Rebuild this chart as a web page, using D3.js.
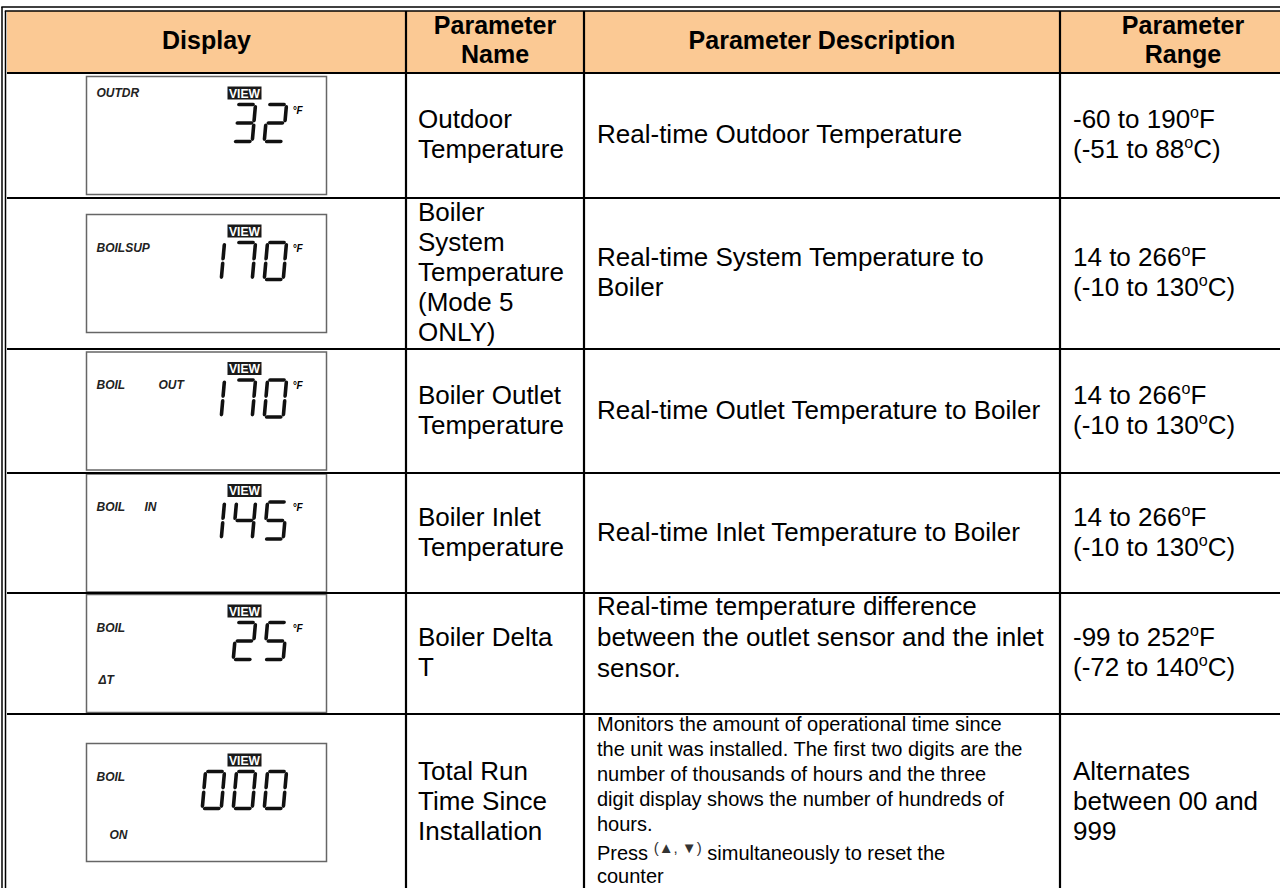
<!DOCTYPE html>
<html>
<head>
<meta charset="utf-8">
<script src="https://cdn.jsdelivr.net/npm/d3@7"></script>
<style>
  body { margin: 0; background: #fff; }
</style>
</head>
<body>
<div id="board"></div>
<script>
// table content
const headers = ["Display", "Parameter\nName", "Parameter Description", "Parameter\nRange"];
const lcdLabel = ["OUTDR", "BOILSUP", "BOIL", "BOIL", "BOIL", "BOIL"];
const lcdSideLabel = ["", "", "OUT", "IN", "", ""];
const lcdLowLabel = ["", "", "", "", "\u0394T", "ON"];
const lcdValue = ["32", "170", "170", "145", "25", "000"];
const lcdUnit = ["\u00b0F", "\u00b0F", "\u00b0F", "\u00b0F", "\u00b0F", ""];
const paramNames = [
    "Outdoor\nTemperature",
    "Boiler\nSystem\nTemperature\n(Mode 5\nONLY)",
    "Boiler Outlet\nTemperature",
    "Boiler Inlet\nTemperature",
    "Boiler Delta\nT",
    "Total Run\nTime Since\nInstallation"
];
const paramDescs = [
    "Real-time Outdoor Temperature",
    "Real-time System Temperature to\nBoiler",
    "Real-time Outlet Temperature to Boiler",
    "Real-time Inlet Temperature to Boiler",
    "Real-time temperature difference\nbetween the outlet sensor and the inlet\nsensor.",
    "Monitors the amount of operational time since\nthe unit was installed. The first two digits are the\nnumber of thousands of hours and the three\ndigit display shows the number of hundreds of\nhours.\nPress [keys] simultaneously to reset the\ncounter"
];
const paramRanges = [
    "-60 to 190\u00b0F\n(-51 to 88\u00b0C)",
    "14 to 266\u00b0F\n(-10 to 130\u00b0C)",
    "14 to 266\u00b0F\n(-10 to 130\u00b0C)",
    "14 to 266\u00b0F\n(-10 to 130\u00b0C)",
    "-99 to 252\u00b0F\n(-72 to 140\u00b0C)",
    "Alternates\nbetween 00 and\n999"
];

// layout
const colEdges = [7, 406, 584, 1060, 1306];
const rowEdges = [11, 73, 198, 349, 473, 593, 714, 891];
const font = "'Liberation Sans', Arial, sans-serif";
const headFill = "#fbc994";
const bodySize = 26, bodyLh = 30;

const board = d3.select("#board")
    .append("svg")
    .attr("width", 1280)
    .attr("height", 888);

const nRows = paramNames.length;
const rowTop = i => rowEdges[i + 1];
const rowBot = i => rowEdges[i + 2];
const rowMid = i => (rowTop(i) + rowBot(i)) / 2;

// header band
board.append("rect")
    .attr("x", colEdges[0])
    .attr("y", rowEdges[0])
    .attr("width", colEdges[4] - colEdges[0])
    .attr("height", rowEdges[1] - rowEdges[0])
    .attr("fill", headFill);

function multiline(g, text, x, cy, opts) {
    const lines = text.split("\n");
    const lh = opts.lh;
    const y0 = opts.top != null ? opts.top : cy - (lines.length * lh) / 2 + lh * 0.76;
    const t = g.append("text")
        .attr("font-family", font)
        .attr("font-size", opts.size)
        .attr("font-weight", opts.weight || "normal")
        .attr("text-anchor", opts.anchor || "start")
        .attr("fill", "#000");
    lines.forEach((ln, k) => {
        const parts = ln.split("\u00b0");
        let lift = 0;
        parts.forEach((p, j) => {
            const ts = t.append("tspan").text(p);
            if (j === 0) ts.attr("x", x).attr("y", y0 + k * lh);
            else ts.attr("dy", lift);
            if (j < parts.length - 1) {
                lift = opts.size * 0.38;
                t.append("tspan").text("o")
                    .attr("font-size", opts.size * 0.62)
                    .attr("dy", -lift);
            }
        });
    });
    return t;
}

// header text
headers.forEach((h, c) => {
    const cx = (colEdges[c] + colEdges[c + 1]) / 2;
    multiline(board, h, cx, (rowEdges[0] + rowEdges[1]) / 2 - 1, { size: 25, lh: 29.5, weight: "bold", anchor: "middle" });
});

// names and ranges
paramNames.forEach((n, i) => {
    multiline(board, n, colEdges[1] + 12, rowMid(i), { size: bodySize, lh: bodyLh });
});
paramRanges.forEach((r, i) => {
    multiline(board, r, colEdges[3] + 13, rowMid(i), { size: bodySize, lh: bodyLh });
});

// descriptions
paramDescs.forEach((d, i) => {
    if (i < nRows - 1) {
        // the delta-T text sits near the top of its cell
        const opts = { size: bodySize, lh: bodyLh };
        if (d.split("\n").length > 2) { opts.top = rowTop(i) + 22; opts.lh = 31; }
        multiline(board, d, colEdges[2] + 13, rowMid(i), opts);
        return;
    }
    // small text in the last row, top aligned
    const lines = d.split("\n");
    const g = board.append("g");
    let y = rowTop(i) + 17;
    lines.forEach(ln => {
        const isPress = ln.startsWith("Press");
        if (isPress) y += 4;
        const t = g.append("text")
            .attr("font-family", font)
            .attr("font-size", 20)
            .attr("x", colEdges[2] + 13)
            .attr("y", y);
        if (ln.includes("[keys]")) {
            const [a, b] = ln.split("[keys]");
            t.append("tspan").text(a);
            t.append("tspan").text("(\u25b2, \u25bc)")
                .attr("font-size", 15).attr("dy", -7).attr("fill", "#333");
            t.append("tspan").text(" " + b.trim()).attr("dy", 7);
        } else {
            t.text(ln);
        }
        y += isPress ? 23 : 25;
    });
});

// LCD displays
const segMap = {
    "0": "abcdef", "1": "bc", "2": "abged", "3": "abgcd", "4": "fgbc",
    "5": "afgcd", "6": "afgedc", "7": "abc", "8": "abcdefg", "9": "abcdfg"
};
function segLines(w, h) {
    const m = h / 2, gp = 2.4;
    return {
        a: [[gp, 0], [w - gp, 0]],
        b: [[w, gp], [w, m - gp]],
        c: [[w, m + gp], [w, h - gp]],
        d: [[gp, h], [w - gp, h]],
        e: [[0, m + gp], [0, h - gp]],
        f: [[0, gp], [0, m - gp]],
        g: [[gp, m], [w - gp, m]]
    };
}

const boxW = 240, boxH = 118;
const dispCx = (colEdges[0] + colEdges[1]) / 2;

lcdValue.forEach((val, i) => {
    const bx = dispCx - boxW / 2;
    const by = rowMid(i) - boxH / 2;
    const g = board.append("g").attr("transform", `translate(${bx},${by})`);

    g.append("rect")
        .attr("width", boxW)
        .attr("height", boxH)
        .attr("fill", "#fff")
        .attr("stroke", "#666")
        .attr("stroke-width", 1.5);

    const lab = (txt, x, y) => g.append("text")
        .attr("x", x).attr("y", y)
        .attr("font-family", font)
        .attr("font-size", 12)
        .attr("font-weight", "bold")
        .attr("font-style", "italic")
        .attr("fill", "#222")
        .text(txt);

    lab(lcdLabel[i], 10, i === 0 ? 20 : 37);
    if (lcdSideLabel[i]) lab(lcdSideLabel[i], lcdSideLabel[i] === "OUT" ? 72 : 58, 37);
    if (lcdLowLabel[i]) lab(lcdLowLabel[i], lcdLowLabel[i] === "ON" ? 23 : 12, lcdLowLabel[i] === "ON" ? 95 : 89);

    // VIEW badge
    g.append("rect")
        .attr("x", 141).attr("y", 10)
        .attr("width", 34).attr("height", 13)
        .attr("fill", "#1a1a1a");
    g.append("text")
        .attr("x", 158).attr("y", 21)
        .attr("text-anchor", "middle")
        .attr("font-family", font)
        .attr("font-size", 12)
        .attr("font-weight", "bold")
        .attr("fill", "#fff")
        .attr("textLength", 31)
        .attr("lengthAdjust", "spacingAndGlyphs")
        .text("VIEW");

    // seven segment digits
    const dw = 19, dh = 37, pitch = 31, right = 200;
    const x = d3.scaleLinear()
        .domain([0, val.length])
        .range([right - dw - pitch * (val.length - 1), right - dw + pitch]);
    const segs = segLines(dw, dh);
    val.split("").forEach((ch, k) => {
        const dg = g.append("g")
            .attr("transform", `translate(${x(k)},28) skewX(-5)`);
        segMap[ch].split("").forEach(s => {
            dg.append("line")
                .attr("x1", segs[s][0][0]).attr("y1", segs[s][0][1])
                .attr("x2", segs[s][1][0]).attr("y2", segs[s][1][1])
                .attr("stroke", "#111")
                .attr("stroke-width", 3.6)
                .attr("stroke-linecap", "round");
        });
    });

    if (lcdUnit[i]) {
        g.append("text")
            .attr("x", 206).attr("y", 37)
            .attr("font-family", font)
            .attr("font-size", 10)
            .attr("font-weight", "bold")
            .attr("font-style", "italic")
            .text(lcdUnit[i]);
    }
});

// grid lines
const lineG = board.append("g").attr("stroke", "#000");
rowEdges.slice(1, -1).forEach(y => {
    lineG.append("line")
        .attr("x1", colEdges[0]).attr("x2", colEdges[4])
        .attr("y1", y).attr("y2", y)
        .attr("stroke-width", 2.2);
});
colEdges.slice(1, 4).forEach(x => {
    lineG.append("line")
        .attr("x1", x).attr("x2", x)
        .attr("y1", rowEdges[0])
        .attr("y2", rowEdges[rowEdges.length - 1])
        .attr("stroke-width", 2.2);
});
// outer double border
lineG.append("line").attr("x1", 2).attr("x2", 2).attr("y1", 7).attr("y2", 891).attr("stroke-width", 1.5);
lineG.append("line").attr("x1", 5.5).attr("x2", 5.5).attr("y1", rowEdges[0]).attr("y2", 891).attr("stroke-width", 1.5);
lineG.append("line").attr("x1", 1.3).attr("x2", 1306).attr("y1", 7).attr("y2", 7).attr("stroke-width", 1.6);
lineG.append("line").attr("x1", 4.8).attr("x2", 1306).attr("y1", rowEdges[0]).attr("y2", rowEdges[0]).attr("stroke-width", 1.4);
</script>
</body>
</html>
